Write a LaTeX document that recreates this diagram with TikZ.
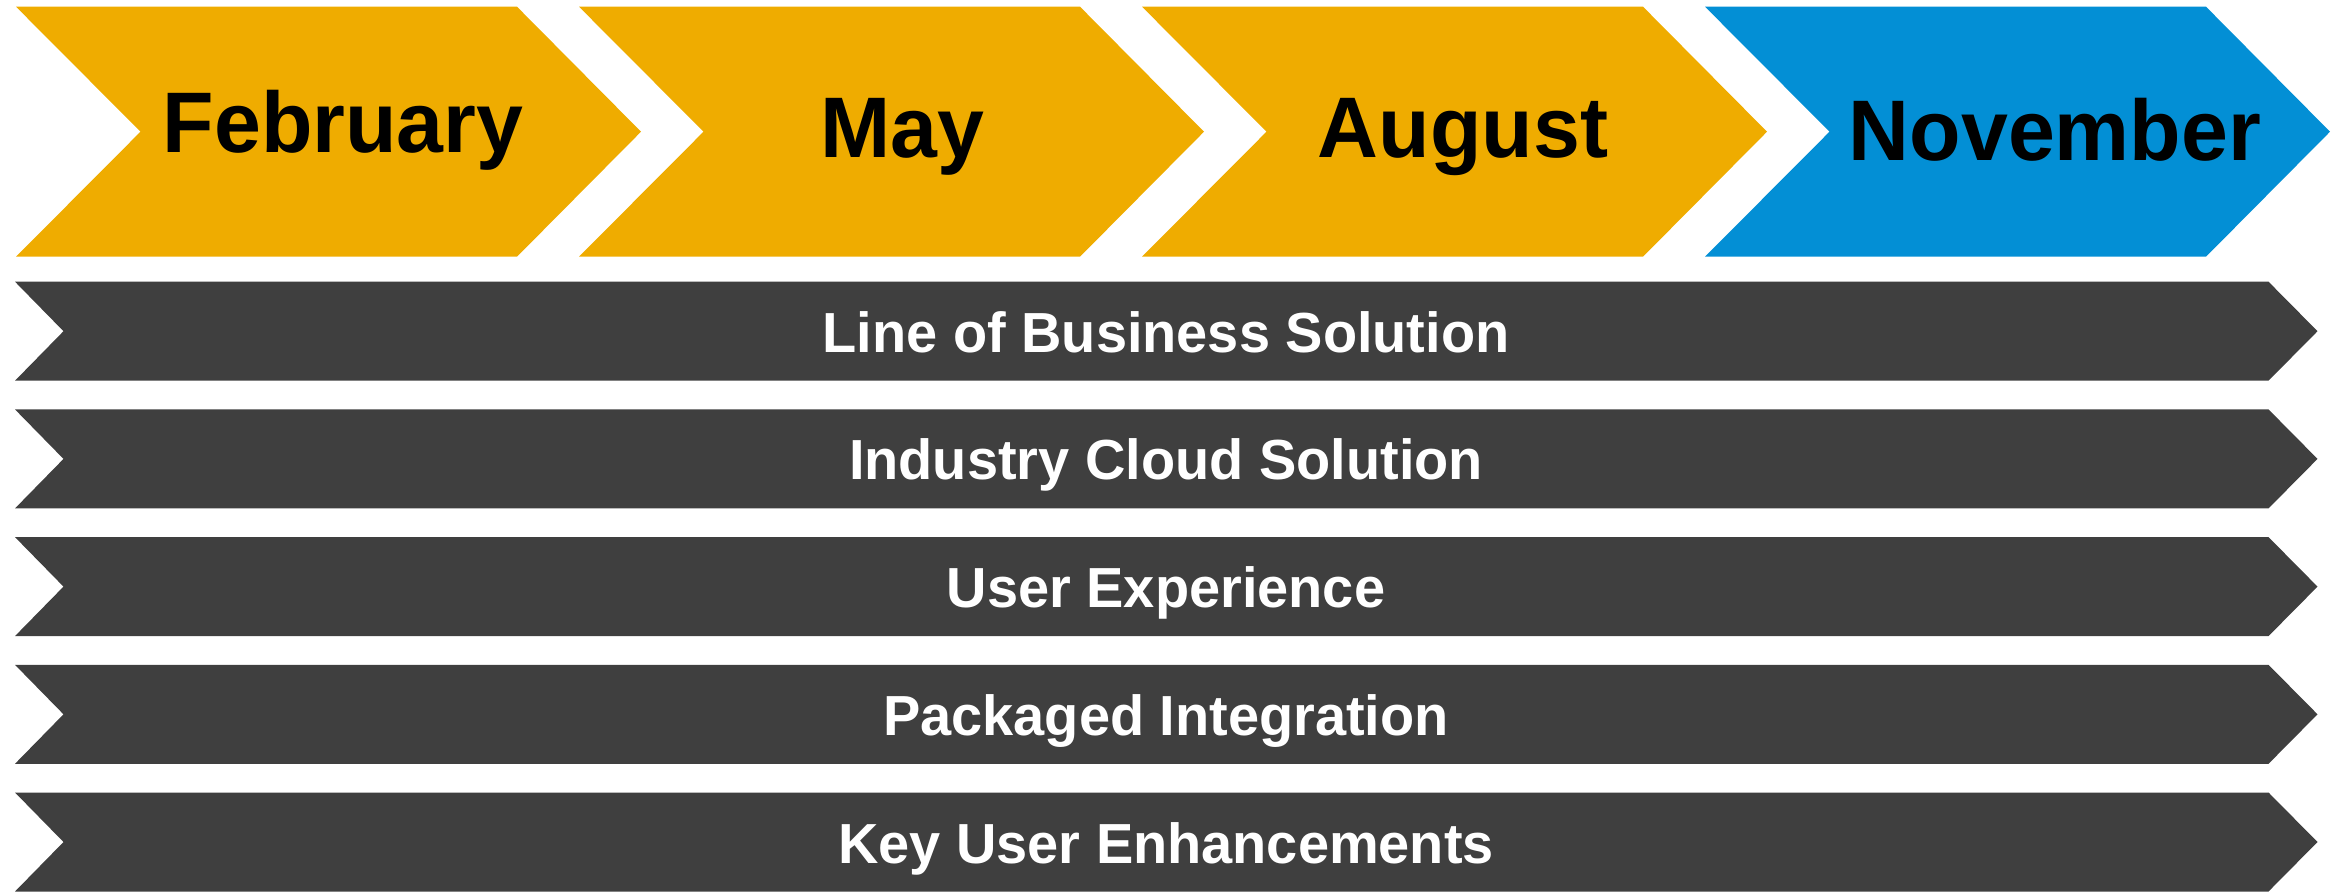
\documentclass[tikz,border=0pt]{standalone}
\usepackage{fontspec}
\setmainfont{Liberation Sans}
\newfontfamily\monthfont[FakeStretch=0.98]{Liberation Sans}
\newfontfamily\themefont[FakeStretch=0.99]{Liberation Sans}
\definecolor{gold}{HTML}{EFAC00}
\definecolor{skyblue}{HTML}{038FD5}
\definecolor{slate}{HTML}{3F3F3F}
\tikzset{
  monthlabel/.style={font=\monthfont\fontsize{86}{90}\selectfont\bfseries, text=black, inner sep=0pt, anchor=base},
  themelabel/.style={font=\themefont\fontsize{56.5}{60}\selectfont\bfseries, text=white, inner sep=0pt, anchor=base},
}
\begin{document}
\begin{tikzpicture}[x=1pt,y=-1pt]
\useasboundingbox (0,0) rectangle (2332,895);

% month chevrons along the top
\foreach \x/\col in {16/gold, 579/gold, 1142/gold, 1705/skyblue}{
  \fill[\col] (\x,6.7) -- (\x+501,6.7) -- (\x+625,131.7) -- (\x+501,256.7)
              -- (\x,256.7) -- (\x+124.5,131.7) -- cycle;
}
\node[monthlabel] (feb) at (343,152.7) {February};
\node[monthlabel] (may) at (902,157.7) {May};
\node[monthlabel] (aug) at (1463,157.7) {August};
\node[monthlabel] (nov) at (2055,160) {November};

% full-width theme bands
\foreach \t/\name/\txt in {281.7/lob/Line of Business Solution,
                           409.4/ind/Industry Cloud Solution,
                           537.1/ux/User Experience,
                           664.8/pkg/Packaged Integration,
                           792.5/key/Key User Enhancements}{
  \fill[slate] (15,\t) -- (2268.5,\t) -- (2317.5,\t+49.5) -- (2268.5,\t+99)
               -- (15,\t+99) -- (63.5,\t+49.5) -- cycle;
  \node[themelabel] (\name) at (1166,\t+70.5) {\txt};
}
\end{tikzpicture}
\end{document}
